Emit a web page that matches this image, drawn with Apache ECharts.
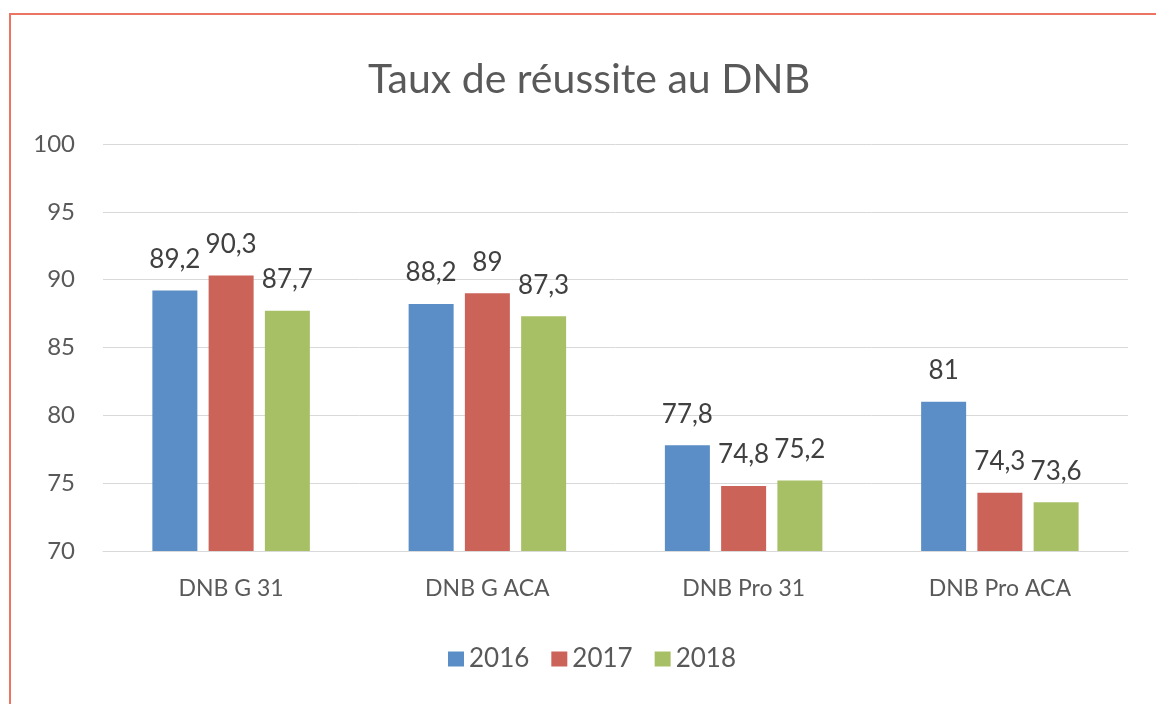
<!DOCTYPE html>
<html>
<head>
<meta charset="utf-8">
<script src="https://cdn.jsdelivr.net/npm/echarts@6/dist/echarts.min.js"></script>
<style>
html,body{margin:0;padding:0;background:#fff;}
#frame{position:absolute;left:9px;top:13px;width:1160px;height:700px;border-top:2px solid #eb7463;border-left:2px solid #eb7463;pointer-events:none;z-index:2;}
#chart{position:absolute;left:0;top:0;width:1156px;height:704px;}
</style>
</head>
<body>
<div id="chart"></div>
<div id="frame"></div>
<script>
const categories = ['DNB G 31', 'DNB G ACA', 'DNB Pro 31', 'DNB Pro ACA'];
const seriesNames = ['2016', '2017', '2018'];
const values2016 = [89.2, 88.2, 77.8, 81];
const values2017 = [90.3, 89, 74.8, 74.3];
const values2018 = [87.7, 87.3, 75.2, 73.6];
const yTicks = [70, 75, 80, 85, 90, 95, 100];

const colors = ['#5b8ec6', '#cb6359', '#a8c065'];
const font = 'Lato, "Open Sans", sans-serif';
const allValues = [values2016, values2017, values2018];

const chart = echarts.init(document.getElementById('chart'));
chart.setOption({
  animation: false,
  title: {
    text: 'Taux de réussite au DNB',
    left: 363,
    top: 54,
    textStyle: {fontFamily: font, fontSize: 41, fontWeight: 'normal', color: '#595959'}
  },
  legend: {
    data: seriesNames,
    bottom: 27,
    left: 443,
    itemWidth: 16,
    itemHeight: 15,
    itemGap: 22,
    icon: 'rect',
    textStyle: {fontFamily: font, fontSize: 26, color: '#595959', padding: [0, 0, 0, 0]}
  },
  grid: {left: 103, right: 28, top: 144, bottom: 153, containLabel: false},
  xAxis: {
    type: 'category',
    data: categories,
    axisLine: {lineStyle: {color: '#d9d9d9', width: 1}},
    axisTick: {show: false},
    axisLabel: {fontFamily: font, fontSize: 23, color: '#595959', margin: 26}
  },
  yAxis: {
    type: 'value',
    min: yTicks[0],
    max: yTicks[yTicks.length - 1],
    interval: 5,
    axisLine: {show: false},
    axisTick: {show: false},
    splitLine: {lineStyle: {color: '#d9d9d9', width: 1}},
    axisLabel: {fontFamily: font, fontSize: 24, color: '#595959', margin: 28}
  },
  series: seriesNames.map((name, i) => ({
    name: name,
    type: 'bar',
    data: allValues[i],
    barWidth: 45,
    barGap: '25%',
    itemStyle: {color: colors[i]},
    label: {
      show: true,
      position: 'top',
      distance: 18,
      fontFamily: font,
      fontSize: 26,
      color: '#404040',
      formatter: p => String(p.value).replace('.', ',')
    }
  }))
});
</script>
</body>
</html>
